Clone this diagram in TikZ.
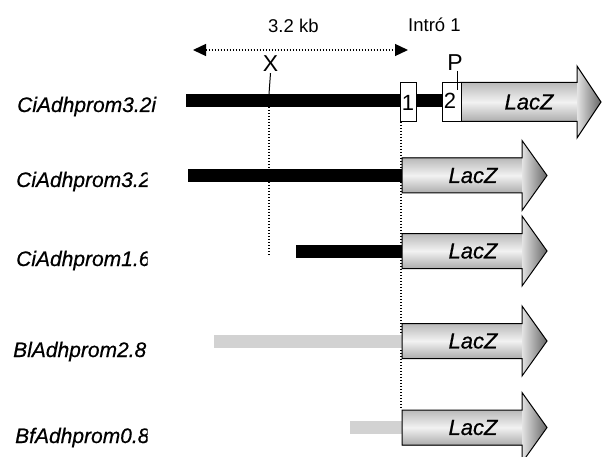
\documentclass[tikz,border=0pt]{standalone}
\usepackage{fontspec}
\setmainfont{Liberation Sans}
\newfontfamily\heavysans{Liberation Sans}[FakeBold=0.6]
\usetikzlibrary{arrows.meta}

% reporter arrow: #1 body start x, #2 centre y, #3 body half height,
% #4 head half height, #5 head base x, #6 tip x
\newcommand\reporterarrow[6]{%
  \shade[top color=gray!55, bottom color=gray!65, middle color=gray!10]
    (#1,#2-#3) rectangle (#5,#2+#3);
  \shade[left color=gray!22, right color=gray!80!black]
    (#5,#2-#4) -- (#6,#2) -- (#5,#2+#4) -- cycle;
  \draw[outline] (#1,#2-#3) -- (#5,#2-#3) -- (#5,#2-#4) -- (#6,#2)
    -- (#5,#2+#4) -- (#5,#2+#3) -- (#1,#2+#3) -- cycle;
}

\tikzset{
  outline/.style={draw=black, line width=1pt, line join=miter},
  promoter/.style={fill=black},
  amphi/.style={fill=gray!35},
  dotline/.style={line width=1.3pt, dash pattern=on 1.2pt off 1.8pt},
  exonbox/.style={draw=black, line width=1pt, fill=white, inner sep=0pt},
  rowlabel/.style={font=\heavysans\fontsize{21}{24}\selectfont\itshape, inner sep=0pt, anchor=base west},
  genelabel/.style={font=\heavysans\fontsize{22}{24}\selectfont\itshape, inner sep=0pt},
  scalelabel/.style={font=\fontsize{18.5}{20}\selectfont, inner sep=0pt, anchor=base west},
  sitelabel/.style={font=\fontsize{23}{24}\selectfont, inner sep=0pt, anchor=base},
  exonnum/.style={font=\fontsize{22}{24}\selectfont, inner sep=0pt},
}

\begin{document}
\begin{tikzpicture}[x=1pt, y=-1pt]
\useasboundingbox (0,0) rectangle (602,457);

% scale bar and its labels
\coordinate (sL) at (193,50);
\coordinate (sR) at (408,50);
\draw[dotline, {Triangle[length=13pt,width=12pt]}-{Triangle[length=13pt,width=12pt]}] (sL) -- (sR);
\node[scalelabel] (kb) at (268,33) {3.2 kb};
\node[scalelabel] (intro) at (408,32) {Intró 1};

% restriction sites
\node[sitelabel] (X) at (270.5,72) {X};
\node[sitelabel] (P) at (455,71) {P};

% alignment guides
\coordinate (xdotTop) at (269,107);
\coordinate (xdotBot) at (269,255);
\coordinate (idotTop) at (401,122);
\coordinate (idotBot) at (401,409);
\draw[dotline] (xdotTop) -- (xdotBot);
\draw[dotline] (idotTop) -- (idotBot);

% row 1: CiAdhprom3.2i with intron 1
\fill[promoter] (186,94) rectangle (442,107);
\reporterarrow{460}{102}{19.5}{36}{577}{601}
\node[genelabel] (lacz1) at (529,102) {LacZ};
\node[exonbox, minimum width=16pt, minimum height=39pt] (ex1) at (408,102.5) {};
\node[exonnum] at (ex1) {1};
\node[exonbox, minimum width=19pt, minimum height=39pt] (ex2) at (451.5,102.5) {};
\node[exonnum] at (450,101) {2};
\draw[line width=1pt] (X.south) ++(0,1) -- (269,94);
\draw[line width=1pt] (457,71) -- (457,90);

% row 2: CiAdhprom3.2
\fill[promoter] (188,169) rectangle (402,182);
\reporterarrow{402}{175.5}{17.5}{35}{522}{547}
\node[genelabel] (lacz2) at (473,175.5) {LacZ};

% row 3: CiAdhprom1.6
\fill[promoter] (296,245) rectangle (402,258);
\reporterarrow{402}{251}{17.5}{35}{522}{547}
\node[genelabel] (lacz3) at (473,251) {LacZ};

% row 4: BlAdhprom2.8
\fill[amphi] (214,335) rectangle (402,348);
\reporterarrow{402}{341}{17.5}{35}{522}{547}
\node[genelabel] (lacz4) at (473,341) {LacZ};

% row 5: BfAdhprom0.8
\fill[amphi] (350,421) rectangle (402,434);
\reporterarrow{402}{427.5}{17.5}{35}{522}{547}
\node[genelabel] (lacz5) at (473,427.5) {LacZ};

% construct names
\node[rowlabel] (n1) at (17,112) {CiAdhprom3.2i};
\begin{scope}
  \clip (0,130) rectangle (147.5,457);
  \node[rowlabel] (n2) at (16,187) {CiAdhprom3.2};
  \node[rowlabel] (n3) at (16,266) {CiAdhprom1.6};
  \node[rowlabel] (n4) at (13,357) {BlAdhprom2.8};
  \node[rowlabel] (n5) at (15,443) {BfAdhprom0.8};
\end{scope}
\end{tikzpicture}
\end{document}
